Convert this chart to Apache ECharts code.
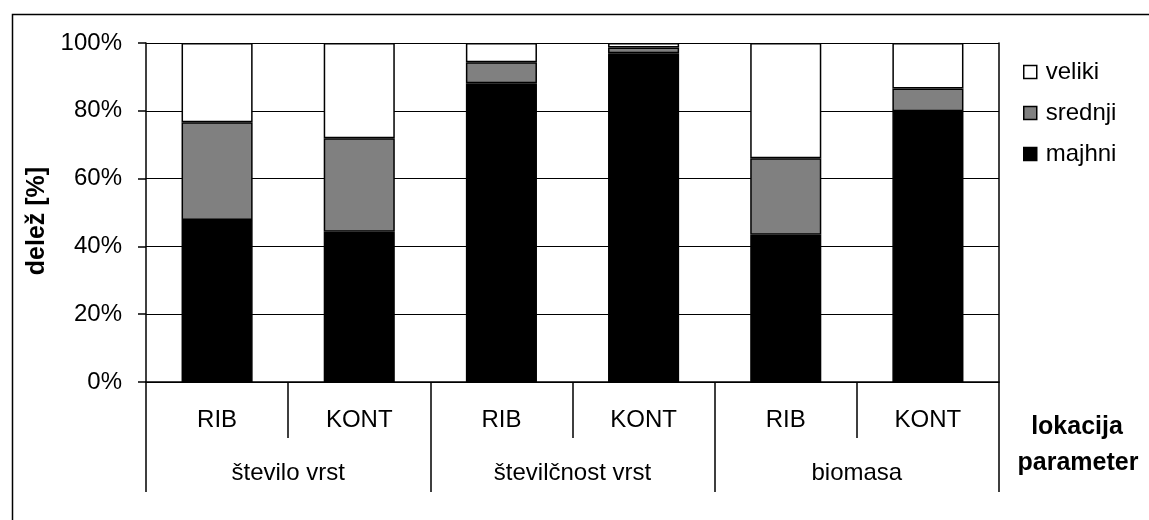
<!DOCTYPE html>
<html>
<head>
<meta charset="utf-8">
<script src="https://cdn.jsdelivr.net/npm/echarts@6/dist/echarts.min.js"></script>
<style>
  html, body { margin: 0; padding: 0; background: #fff; }
  #chart { width: 1149px; height: 520px; }
</style>
</head>
<body>
<div id="chart"></div>
<script>
// Lokacije (prva vrstica pod osjo) in parametri (druga vrstica)
const locations = ['RIB', 'KONT', 'RIB', 'KONT', 'RIB', 'KONT'];
const parameters = ['število vrst', 'številčnost vrst', 'biomasa'];

// Deleži velikostnih razredov [%]
const majhni = [47.8, 44.3, 88.1, 97.0, 43.4, 79.9];
const srednji = [28.8, 27.6, 6.2, 1.7, 22.6, 6.7];
const veliki = [23.4, 28.1, 5.7, 1.3, 34.0, 13.4];

const yTicks = [0, 20, 40, 60, 80, 100];

const FONT = "'Liberation Sans', Arial, Helvetica, sans-serif";
const FS = 24;

const chart = echarts.init(document.getElementById('chart'), null, { renderer: 'canvas' });

function barSeries(name, data, color) {
  return {
    name: name,
    type: 'bar',
    stack: 'delez',
    data: data,
    barWidth: '50%',
    xAxisIndex: 0,
    yAxisIndex: 0,
    itemStyle: { color: color, borderColor: '#000', borderWidth: 1.5 },
    emphasis: { disabled: true },
    animation: false
  };
}

chart.setOption({
  animation: false,
  backgroundColor: '#fff',
  textStyle: { fontFamily: FONT, color: '#000' },
  grid: { left: 146, right: 150, top: 43, bottom: 138, containLabel: false },
  legend: {
    data: ['veliki', 'srednji', 'majhni'],
    orient: 'vertical',
    left: 1023,
    top: 60,
    padding: 0,
    icon: 'rect',
    itemWidth: 13,
    itemHeight: 13,
    itemGap: 17,
    itemStyle: { borderColor: '#000', borderWidth: 1.5 },
    textStyle: { fontFamily: FONT, fontSize: FS, color: '#000', padding: [0, 0, 0, 4] },
    selectedMode: false
  },
  xAxis: [
    {
      type: 'category',
      data: locations,
      position: 'bottom',
      axisLine: { show: true, lineStyle: { color: '#000', width: 1.5 } },
      axisTick: { show: true, length: 56, lineStyle: { color: '#000', width: 1.5 } },
      axisLabel: { fontFamily: FONT, fontSize: FS, color: '#000', margin: 26 },
      splitLine: { show: false }
    },
    {
      type: 'category',
      data: parameters,
      position: 'bottom',
      axisLine: { show: false },
      axisTick: { show: true, length: 110, lineStyle: { color: '#000', width: 1.5 } },
      axisLabel: { fontFamily: FONT, fontSize: FS, color: '#000', margin: 79 },
      splitLine: { show: false }
    }
  ],
  yAxis: [
    {
      type: 'value',
      min: yTicks[0],
      max: yTicks[yTicks.length - 1],
      interval: 20,
      axisLine: { show: true, lineStyle: { color: '#000', width: 1.5 } },
      axisTick: { show: true, length: 8, lineStyle: { color: '#000', width: 1.5 } },
      axisLabel: { fontFamily: FONT, fontSize: FS, color: '#000', margin: 24, formatter: '{value}%' },
      splitLine: { show: true, lineStyle: { color: '#000', width: 1.2 } }
    },
    {
      type: 'value',
      position: 'right',
      min: 0,
      max: 100,
      interval: 20,
      axisLine: { show: true, lineStyle: { color: '#000', width: 1.5 } },
      axisTick: { show: false },
      axisLabel: { show: false },
      splitLine: { show: false }
    }
  ],
  series: [
    barSeries('majhni', majhni, '#000000'),
    barSeries('srednji', srednji, '#808080'),
    barSeries('veliki', veliki, '#ffffff')
  ],
  graphic: [
    {
      type: 'rect',
      left: 10,
      top: 12,
      shape: { x: 0, y: 0, width: 1300, height: 700 },
      style: { fill: 'none', stroke: '#000', lineWidth: 1.5 },
      silent: true,
      z: -1
    },
    {
      // naslov navpične osi
      type: 'text',
      x: 37,
      y: 221,
      rotation: Math.PI / 2,
      style: {
        text: 'delež [%]',
        font: 'bold 25px ' + FONT,
        fill: '#000',
        textAlign: 'center',
        textVerticalAlign: 'middle'
      }
    },
    {
      type: 'text',
      x: 1077,
      y: 427,
      style: { text: 'lokacija', font: 'bold 25px ' + FONT, fill: '#000', textAlign: 'center', textVerticalAlign: 'middle' }
    },
    {
      type: 'text',
      x: 1078,
      y: 463,
      style: { text: 'parameter', font: 'bold 25px ' + FONT, fill: '#000', textAlign: 'center', textVerticalAlign: 'middle' }
    }
  ]
});
</script>
</body>
</html>
